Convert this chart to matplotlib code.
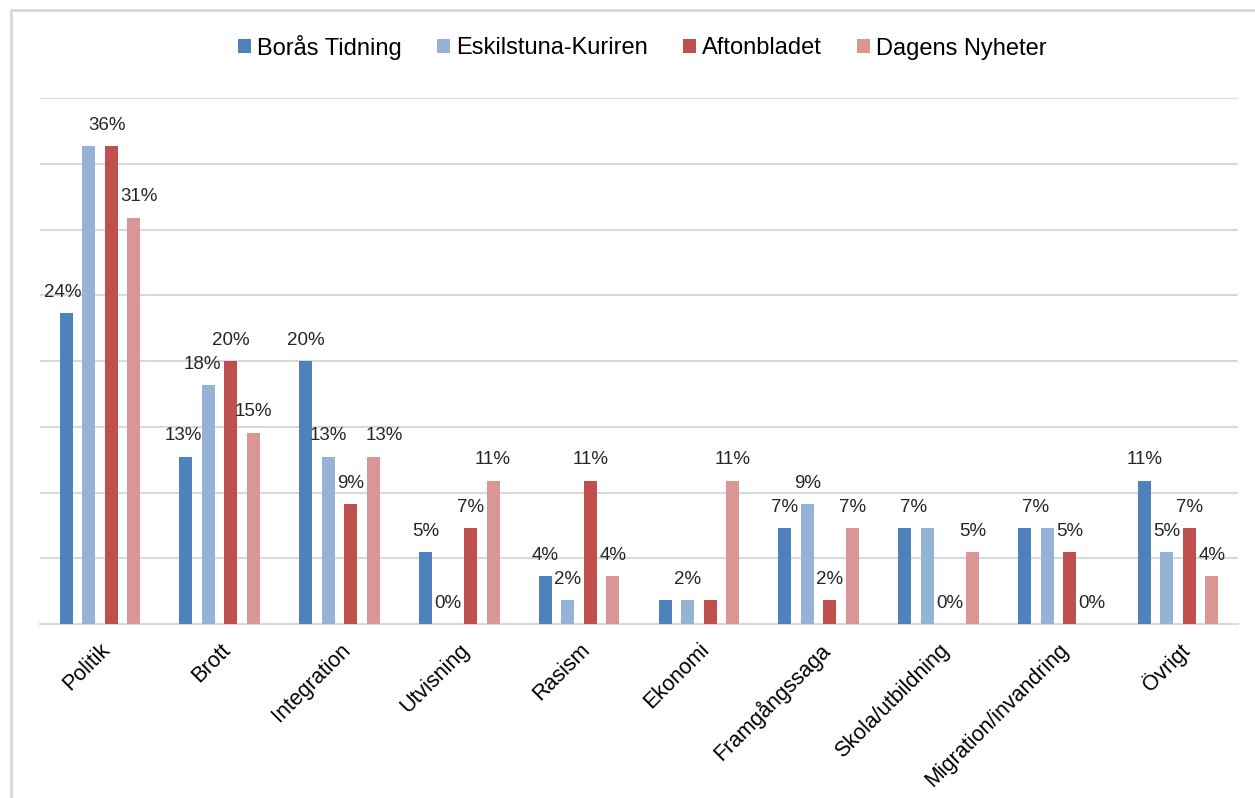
import matplotlib
matplotlib.use('Agg')
import matplotlib.pyplot as plt
import numpy as np
from matplotlib.patches import Rectangle

plt.rcParams['font.family'] = ['Liberation Sans', 'DejaVu Sans']

# ämnen och andel artiklar (%) per tidning
categories = ['Politik', 'Brott', 'Integration', 'Utvisning', 'Rasism', 'Ekonomi',
              'Framgångssaga', 'Skola/utbildning', 'Migration/invandring', 'Övrigt']
series_names = ['Borås Tidning', 'Eskilstuna-Kuriren', 'Aftonbladet', 'Dagens Nyheter']
boras = [23.64, 12.73, 20.0, 5.45, 3.64, 1.82, 7.27, 7.27, 7.27, 10.91]
eskilstuna = [36.36, 18.18, 12.73, 0.0, 1.82, 1.82, 9.09, 7.27, 7.27, 5.45]
aftonbladet = [36.36, 20.0, 9.09, 7.27, 10.91, 1.82, 1.82, 0.0, 5.45, 7.27]
dagens = [30.91, 14.55, 12.73, 10.91, 3.64, 10.91, 7.27, 5.45, 0.0, 3.64]

colors = ['#4F81BD', '#95B3D7', '#C0504D', '#D99694']

# etiketter som Excel dolde (kategori, serie) och små förskjutningar i px
hidden = {(0, 1), (5, 0), (5, 2), (7, 1), (8, 1)}
nudge = {(0, 0): -3, (0, 2): -4, (0, 3): 5, (1, 0): -3, (1, 1): -6,
         (2, 3): 11, (7, 0): 9, (8, 0): 11}

W, H = 1255, 798
fig = plt.figure(figsize=(W / 100, H / 100), dpi=100)
ax = fig.add_axes([40 / W, 1 - 624 / H, 1198 / W, 526 / H])

# ram runt diagrammet
fig.patches.append(Rectangle((11 / W, -0.1), 1.2, 1.1 - 10 / H, transform=fig.transFigure,
                             fill=False, edgecolor='#D9D9D9', linewidth=2))

x = np.arange(len(categories))
pitch = 0.188
width = 0.108
all_series = [boras, eskilstuna, aftonbladet, dagens]
for s, (vals, name, col) in enumerate(zip(all_series, series_names, colors)):
    pos = x + (s - 1.5) * pitch
    ax.bar(pos, vals, width, color=col, label=name, zorder=3)
    for c, v in enumerate(vals):
        if (c, s) in hidden:
            continue
        dx = nudge.get((c, s), 0) * 0.72
        ax.annotate(f'{v:.0f}%', (pos[c], v), xytext=(dx, 15), textcoords='offset points',
                    ha='center', va='center', fontsize=13.5, color='#262626')

ax.set_xlim(-0.5, len(categories) - 0.5)
ax.set_ylim(0, 40)
ax.set_yticks(np.arange(0, 41, 5))
ax.yaxis.grid(True, color='#D9D9D9', linewidth=1.5, zorder=0)
ax.set_yticklabels([])
ax.tick_params(axis='both', length=0)
for side in ['top', 'right', 'left']:
    ax.spines[side].set_visible(False)
ax.spines['bottom'].set_color('#D9D9D9')
ax.spines['bottom'].set_linewidth(1.5)

ax.set_xticks(x)
ax.set_xticklabels(categories, rotation=45, ha='right', rotation_mode='anchor',
                   fontsize=15.5, color='#000000')
ax.tick_params(axis='x', pad=11)

fig.legend(loc='center', bbox_to_anchor=(0.512, 1 - 47 / H), ncol=4, frameon=False,
           fontsize=17, handlelength=0.55, handleheight=0.55, handletextpad=0.25,
           columnspacing=1.5)

fig.savefig('out.png', dpi=100, facecolor='white')
